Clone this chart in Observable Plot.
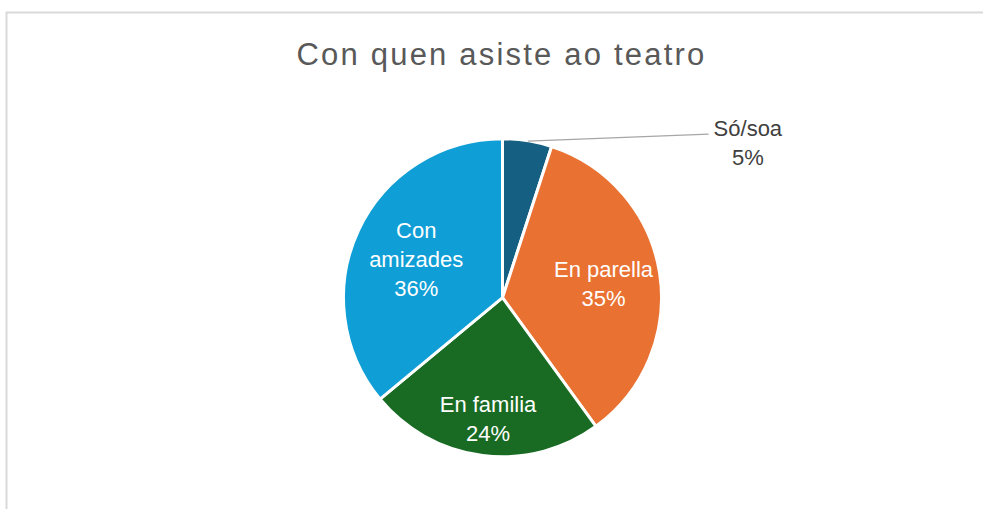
<!DOCTYPE html>
<html><head><meta charset="utf-8">
<script src="https://cdn.jsdelivr.net/npm/d3@7"></script>
<script src="https://cdn.jsdelivr.net/npm/@observablehq/plot@0.6"></script>
<style>
body{margin:0;background:#fff;}
#wrap{position:relative;width:983px;height:509px;overflow:hidden;background:#fff;}
#wrap svg{position:absolute;left:0;top:0;}
#title{position:absolute;left:10px;top:39px;width:983px;text-align:center;font-family:"Liberation Sans",Arial,sans-serif;font-size:31px;letter-spacing:2.2px;color:#595959;line-height:31px;white-space:nowrap;z-index:2;}
</style></head><body>
<div id="wrap"><div id="title"></div></div>
<script>
const title = "Con quen asiste ao teatro";
const categories = ["Só/soa", "En parella", "En familia", "Con amizades"];
const values = [5, 35, 24, 36];
const labelLines = [["Só/soa"], ["En parella"], ["En familia"], ["Con", "amizades"]];
const colors = ["#156082", "#E97132", "#196B24", "#0F9ED5"];

const FONT = '"Liberation Sans", Arial, sans-serif';
const FS = 22, LH = 1.32;
const R = 159, CX = 502.5, CY = 297.7;

document.getElementById("title").textContent = title;

const total = d3.sum(values);
const arcs = d3.pie().sort(null).value(d => d)(values);
const ctx = document.createElement("canvas").getContext("2d");
ctx.font = `${FS}px ${FONT}`;

// push the label box outward along the slice's bisector until it touches the rim
function fitRadius(a, w, h) {
  const lim = 1 - 4 / R;
  let lo = 0, hi = 1;
  for (let k = 0; k < 40; k++) {
    const t = (lo + hi) / 2;
    const x = t * Math.sin(a), y = t * Math.cos(a);
    const ok = [[-1,-1],[1,-1],[1,1],[-1,1]].every(([sx, sy]) => Math.hypot(x + sx * w / 2, y + sy * h / 2) <= lim);
    if (ok) lo = t; else hi = t;
  }
  return lo;
}

const slices = categories.map((c, i) => {
  const a = arcs[i];
  const mid = (a.startAngle + a.endAngle) / 2;
  const pct = Math.round(values[i] / total * 100) + "%";
  const lines = [...labelLines[i], pct];
  const share = values[i] / total;
  const outside = share < 0.1;
  let lx, ly;
  if (outside) {
    lx = 1.54; ly = Math.cos(mid);
  } else {
    const w = d3.max(lines, l => ctx.measureText(l).width) / R;
    const h = ((lines.length - 1) * LH * FS + 0.75 * FS) / R;
    const t = fitRadius(mid, w, h);
    lx = t * Math.sin(mid); ly = t * Math.cos(mid);
  }
  return {category: c, value: values[i], color: colors[i], start: a.startAngle, end: a.endAngle, mid,
          text: lines.join("\n"), outside, lx, ly};
});

const leaders = slices.filter(d => d.outside).map(d => ({
  x1: Math.sin(d.mid), y1: Math.cos(d.mid), x2: d.lx - 0.247, y2: d.ly + 0.044
}));

function pieMark(index, scales) {
  const x = scales.x, y = scales.y;
  const cx = x(0), cy = y(0), r = x(1) - x(0);
  const arc = d3.arc().innerRadius(0).outerRadius(r);
  const g = d3.create("svg:g").attr("transform", `translate(${cx},${cy})`);
  g.selectAll("path").data(slices).join("path")
    .attr("d", d => arc({startAngle: d.start, endAngle: d.end}))
    .attr("fill", d => d.color)
    .attr("stroke", "#fff").attr("stroke-width", 3).attr("stroke-linejoin", "round");
  return g.node();
}

const chart = Plot.plot({
  width: 983, height: 509,
  margin: 0,
  style: {background: "transparent", fontFamily: FONT},
  x: {domain: [-1, 1], range: [CX - R, CX + R], axis: null},
  y: {domain: [-1, 1], range: [CY + R, CY - R], axis: null},
  marks: [
    Plot.frame({stroke: "#d9d9d9", strokeWidth: 2, insetLeft: 6, insetTop: 12, insetRight: -6, insetBottom: -6}),
    pieMark,
    Plot.link(leaders, {x1: "x1", y1: "y1", x2: "x2", y2: "y2", stroke: "#a6a6a6", strokeWidth: 1.2}),
    Plot.text(slices.filter(d => !d.outside), {x: "lx", y: "ly", text: "text", fill: "#ffffff", fontSize: FS, lineHeight: LH}),
    Plot.text(slices.filter(d => d.outside), {x: "lx", y: "ly", text: "text", fill: "#404040", fontSize: FS, lineHeight: LH})
  ]
});
document.getElementById("wrap").appendChild(chart);
</script>
</body></html>
